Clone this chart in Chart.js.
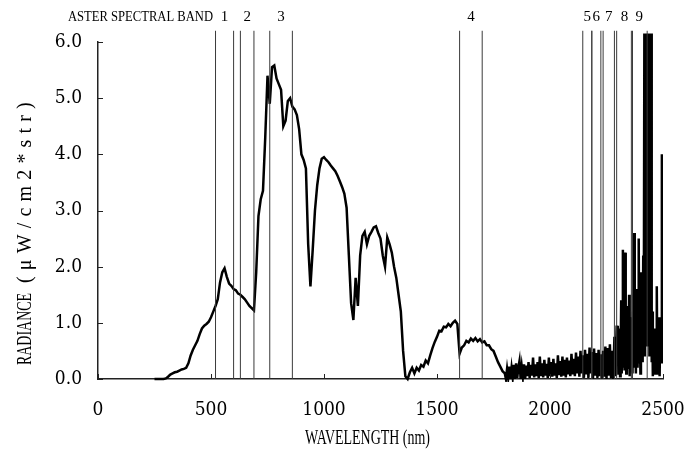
<!DOCTYPE html>
<html>
<head>
<meta charset="utf-8">
<script src="https://cdn.jsdelivr.net/npm/chart.js@4/dist/chart.umd.min.js"></script>
<style>
html,body{margin:0;padding:0;background:#fff;}
#wrap{width:700px;height:455px;}
</style>
</head>
<body>
<div id="wrap"><canvas id="c" width="700" height="455"></canvas></div>
<script>
// ---- axis ticks ----
const xTicks = [0, 500, 1000, 1500, 2000, 2500];
const yTicks = [0, 1, 2, 3, 4, 5, 6];

// ---- ASTER spectral bands (nm) ----
const bandNames = ['1', '2', '3', '4', '5', '6', '7', '8', '9'];
const bandStart = [520, 630, 760, 1600, 2145, 2185, 2235, 2295, 2360];
const bandEnd   = [600, 690, 860, 1700, 2185, 2225, 2285, 2365, 2430];

// ---- radiance, 250..1800 nm every 10 nm ----
const vnirStart = 250, vnirStep = 10;
const radianceVNIR = [
  0,0,0,0,0,0.01,0.04,0.08,0.1,0.12,
  0.13,0.15,0.17,0.18,0.2,0.28,0.42,0.52,0.6,0.68,
  0.8,0.9,0.95,0.98,1.02,1.1,1.2,1.3,1.42,1.72,
  1.9,1.97,1.82,1.7,1.66,1.6,1.58,1.52,1.5,1.46,
  1.42,1.36,1.3,1.26,1.22,1.9,2.9,3.2,3.35,4.3,
  5.4,4.9,5.55,5.58,5.35,5.25,5.15,4.5,4.6,4.95,
  5.0,4.85,4.8,4.7,4.45,4.0,3.9,3.75,2.4,1.65,
  2.3,3.0,3.45,3.75,3.92,3.95,3.9,3.86,3.8,3.75,
  3.7,3.62,3.52,3.42,3.3,3.05,2.2,1.35,1.05,1.8,
  1.3,2.2,2.55,2.62,2.4,2.55,2.62,2.7,2.72,2.6,
  2.5,2.2,2.0,2.52,2.4,2.25,2.0,1.8,1.5,1.2,
  0.5,0.05,0.0,0.12,0.2,0.1,0.2,0.15,0.25,0.22,
  0.33,0.28,0.42,0.55,0.66,0.75,0.86,0.85,0.93,0.92,
  0.98,0.94,1.0,1.04,0.98,0.45,0.56,0.6,0.68,0.65,
  0.72,0.68,0.73,0.67,0.71,0.65,0.67,0.6,0.6,0.53,
  0.5,0.4,0.3,0.22,0.14,0.1
];

// ---- radiance, 1805..2295 nm every 5 nm (noisy SWIR) ----
const swirStart = 1805, swirStep = 5;
const radianceSWIR = [
  0.0,0.18,0.02,0.22,0.0,0.2,0.03,0.25,0.0,0.28,
  0.02,0.2,0.32,0.0,0.22,0.04,0.26,0.0,0.24,0.05,
  0.3,0.02,0.25,0.06,0.38,0.03,0.26,0.05,0.3,0.02,
  0.4,0.05,0.28,0.03,0.34,0.06,0.27,0.02,0.38,0.05,
  0.3,0.04,0.36,0.06,0.28,0.02,0.42,0.07,0.32,0.04,
  0.4,0.06,0.34,0.03,0.38,0.08,0.33,0.05,0.45,0.08,
  0.36,0.05,0.47,0.1,0.4,0.04,0.5,0.1,0.42,0.02,
  0.52,0.08,0.45,0.02,0.56,0.1,0.48,0.0,0.54,0.06,
  0.46,0.02,0.52,0.05,0.44,0.0,0.5,0.04,0.58,0.0,
  0.55,0.06,0.62,0.02,0.5,0.0,0.75,0.05,0.95
];

// ---- radiance, 2297.5..2500 nm every 2.5 nm (very noisy) ----
const swir2Start = 2297.5, swir2Step = 2.5;
const radianceSWIR2 = [
  0.3,0.95,0.1,0.6,0.9,0.05,0.5,1.4,0.1,0.8,
  2.3,0.2,1.0,0.15,2.25,0.4,0.1,1.3,0.2,0.9,
  0.3,1.5,0.05,0.7,1.1,0.3,0.9,0.1,1.2,0.4,
  2.6,0.2,1.0,0.1,1.6,0.6,0.2,1.3,2.5,0.3,
  1.0,0.1,1.9,0.5,1.4,0.3,2.2,0.8,6.15,0.4,
  6.15,1.0,6.15,0.6,6.15,1.5,6.15,0.4,6.15,0.8,
  6.15,0.3,1.2,0.05,0.8,0.3,0.9,0.1,0.7,0.2,
  1.65,0.1,0.6,0.3,1.1,0.05,0.8,0.5,0.3,4.0,
  0.6,0.3
];

const spectrum = [];
radianceVNIR.forEach((v, i) => spectrum.push({x: vnirStart + i * vnirStep, y: v}));
radianceSWIR.forEach((v, i) => spectrum.push({x: swirStart + i * swirStep, y: v}));
radianceSWIR2.forEach((v, i) => spectrum.push({x: swir2Start + i * swir2Step, y: v}));

const bandLineTop = 6.2;
const bandLines = [];
bandStart.forEach((s, i) => {
  [s, bandEnd[i]].forEach(w => {
    bandLines.push({x: w, y: 0}, {x: w, y: bandLineTop}, {x: w, y: null});
  });
});

const TICK_FONT = "'DejaVu Serif Condensed', 'DejaVu Serif', serif";
const TEXT_FONT = "'Liberation Serif', serif";

function fitText(ctx, text, x0, base, width, font) {
  ctx.font = font;
  const w = ctx.measureText(text).width;
  ctx.save();
  ctx.translate(x0, base);
  ctx.scale(width / w, 1);
  ctx.textAlign = 'left';
  ctx.textBaseline = 'alphabetic';
  ctx.fillText(text, 0, 0);
  ctx.restore();
}

const decor = {
  id: 'decor',
  afterDraw(chart) {
    const ctx = chart.ctx;
    const xs = chart.scales.x, ys = chart.scales.y;
    ctx.save();
    // inward tick marks
    ctx.strokeStyle = '#222';
    ctx.lineWidth = 1;
    ctx.beginPath();
    xTicks.forEach(v => {
      const px = Math.round(xs.getPixelForValue(v)) + 0.5;
      ctx.moveTo(px, ys.bottom);
      ctx.lineTo(px, ys.bottom - 5);
    });
    yTicks.forEach(v => {
      const py = Math.round(ys.getPixelForValue(v)) + 0.5;
      ctx.moveTo(xs.left, py);
      ctx.lineTo(xs.left + 5, py);
    });
    ctx.stroke();

    ctx.fillStyle = '#000';
    // header
    fitText(ctx, 'ASTER SPECTRAL BAND', 68, 21, 145, '15px ' + TEXT_FONT);
    ctx.font = '15px ' + TEXT_FONT;
    ctx.textAlign = 'center';
    ctx.textBaseline = 'alphabetic';
    bandNames.forEach((n, i) => {
      const cx = xs.getPixelForValue((bandStart[i] + bandEnd[i]) / 2);
      ctx.fillText(n, cx, 21);
    });

    // x title
    fitText(ctx, 'WAVELENGTH (nm)', 305, 444, 125, '21px ' + TEXT_FONT);

    // y title (rotated)
    ctx.save();
    ctx.translate(31, 365);
    ctx.rotate(-Math.PI / 2);
    fitText(ctx, 'RADIANCE', 0, 0, 72, '21px ' + TEXT_FONT);
    ctx.font = '20px ' + TEXT_FONT;
    const part = '(\u03bcW/cm2*str)';
    const nat = ctx.measureText(part).width;
    const ls = (187 - nat) / part.length;
    if ('letterSpacing' in ctx) ctx.letterSpacing = ls.toFixed(2) + 'px';
    ctx.textAlign = 'left';
    ctx.fillText(part, 82, 0);
    if ('letterSpacing' in ctx) ctx.letterSpacing = '0px';
    ctx.restore();

    ctx.restore();
  }
};

new Chart(document.getElementById('c'), {
  type: 'line',
  data: {
    datasets: [
      {
        data: bandLines,
        borderColor: '#3a3a3a',
        borderWidth: 1,
        pointRadius: 0,
        spanGaps: false,
        clip: false,
        tension: 0
      },
      {
        data: spectrum,
        borderColor: '#000',
        borderWidth: 2.5,
        pointRadius: 0,
        tension: 0,
        clip: {left: 0, top: 12, right: 0, bottom: 3}
      }
    ]
  },
  options: {
    responsive: false,
    animation: false,
    devicePixelRatio: 1,
    layout: {padding: {left: 0, top: 42, right: 37, bottom: 0}},
    plugins: {legend: {display: false}, tooltip: {enabled: false}},
    scales: {
      x: {
        type: 'linear',
        min: 0, max: 2500,
        afterBuildTicks: s => { s.ticks = xTicks.map(v => ({value: v})); },
        afterFit: s => { s.height = 76; s.paddingLeft = 0; s.paddingRight = 0; },
        ticks: {
          color: '#000',
          padding: 20,
          maxRotation: 0,
          font: {family: TICK_FONT, size: 19},
          callback: v => String(v)
        },
        grid: {drawOnChartArea: false, drawTicks: false},
        border: {color: '#222', width: 1.5}
      },
      y: {
        type: 'linear',
        min: 0, max: 6,
        afterBuildTicks: s => { s.ticks = yTicks.map(v => ({value: v})); },
        afterFit: s => { s.width = 98; s.paddingTop = 0; s.paddingBottom = 0; },
        ticks: {
          color: '#000',
          padding: 16,
          font: {family: TICK_FONT, size: 19},
          callback: v => Number(v).toFixed(1)
        },
        grid: {drawOnChartArea: false, drawTicks: false},
        border: {color: '#222', width: 1.5}
      }
    }
  },
  plugins: [decor]
});
</script>
</body>
</html>
